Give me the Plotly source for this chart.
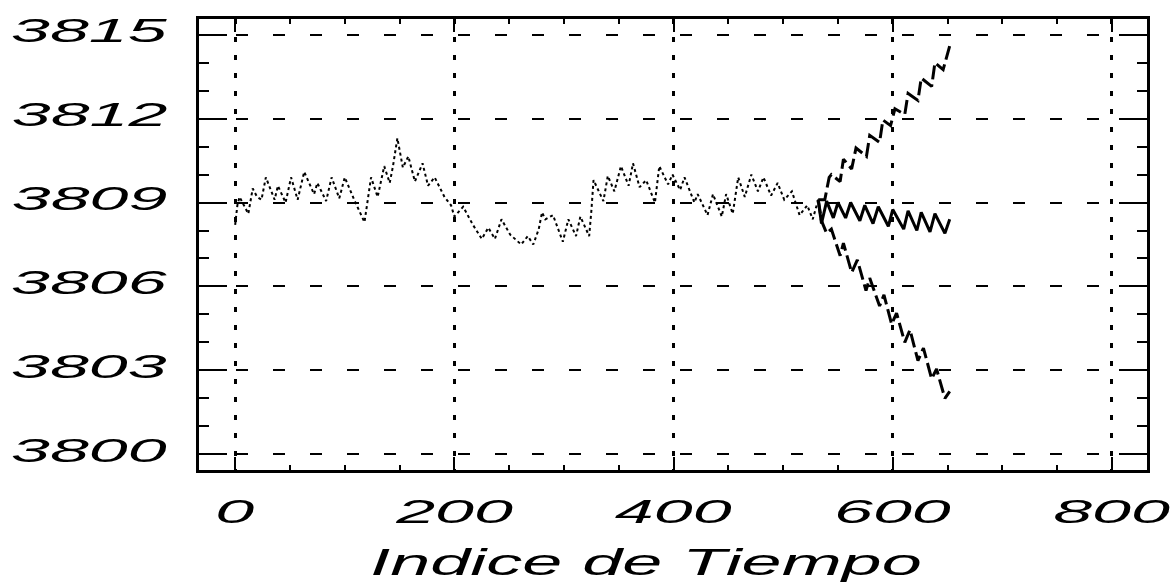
import plotly.graph_objects as go

# Observed series (time index, level)
obs_t = [0, 2, 4, 8, 12, 16, 20, 24, 28, 36, 39, 46, 51, 57, 63, 72, 75, 83, 88, 95,
         100, 109, 118, 124, 130, 136, 141, 144, 148, 153, 158, 164, 171, 176, 182, 191,
         197, 200, 208, 217, 225, 231, 237, 243, 251, 261, 267, 272, 277, 280, 283, 290,
         299, 304, 311, 315, 323, 325, 327, 336, 340, 346, 352, 359, 363, 369, 375, 383,
         387, 395, 399, 406, 410, 419, 422, 431, 436, 444, 448, 454, 459, 465, 471, 477,
         482, 489, 495, 501, 508, 515, 522, 527, 532]
obs_v = [3808.2, 3808.9, 3809.2, 3808.9, 3808.6, 3809.5, 3809.2, 3809.1, 3809.9, 3809.1,
         3809.6, 3809.0, 3809.9, 3809.1, 3810.1, 3809.3, 3809.7, 3809.05, 3809.9, 3809.15,
         3809.9, 3809.06, 3808.3, 3809.9, 3809.2, 3810.3, 3809.7, 3810.3, 3811.3, 3810.25,
         3810.65, 3809.75, 3810.4, 3809.6, 3809.9, 3809.2, 3808.9, 3808.5, 3808.85, 3808.2,
         3807.7, 3808.1, 3807.7, 3808.4, 3807.85, 3807.5, 3807.8, 3807.5, 3808.05, 3808.65,
         3808.4, 3808.55, 3807.6, 3808.4, 3807.8, 3808.5, 3807.8, 3808.7, 3809.8, 3809.05,
         3809.95, 3809.4, 3810.3, 3809.6, 3810.4, 3809.55, 3809.8, 3809.0, 3810.3, 3809.65,
         3810.0, 3809.45, 3809.9, 3809.0, 3809.3, 3808.55, 3809.3, 3808.5, 3809.3, 3808.6,
         3809.9, 3809.2, 3810.0, 3809.4, 3809.9, 3809.25, 3809.7, 3809.1, 3809.4, 3808.55,
         3808.9, 3808.4, 3809.1]

# Point forecast
mid_t = [532, 535, 539.7, 545.8, 550, 557, 561.6, 570, 574.5, 582, 586.8, 596, 600, 610,
         614, 622, 626, 634, 638.5, 647.6, 652]
mid_v = [3809.1, 3808.25, 3809.05, 3808.45, 3809.0, 3808.45, 3809.0, 3808.35, 3808.9,
         3808.25, 3808.85, 3808.15, 3808.75, 3808.05, 3808.7, 3808.0, 3808.65, 3807.95,
         3808.6, 3807.9, 3808.4]

# Upper band
hi_t = [532, 538, 542, 544, 552, 555, 562.5, 566.5, 576, 579, 588, 591, 598, 602, 611,
        614, 623, 626, 635.5, 638.5, 646, 652]
hi_v = [3809.1, 3809.1, 3809.9, 3810.0, 3809.75, 3810.55, 3810.2, 3810.95, 3810.65,
        3811.4, 3811.15, 3811.95, 3811.75, 3812.35, 3812.15, 3812.9, 3812.65, 3813.45,
        3813.15, 3814.0, 3813.75, 3814.6]

# Lower band
lo_t = [532, 535, 539.7, 544, 552, 555, 562.5, 567.7, 575.6, 579, 588, 592, 599, 603.5,
        611, 615.7, 623, 628, 635.5, 640, 647.6, 652]
lo_v = [3809.1, 3808.35, 3807.9, 3808.05, 3807.1, 3807.55, 3806.5, 3806.95, 3805.85,
        3806.3, 3805.3, 3805.7, 3804.65, 3805.05, 3804.0, 3804.45, 3803.35, 3803.8,
        3802.7, 3803.05, 3802.0, 3802.25]

x_ticks = [0, 200, 400, 600, 800]
y_ticks = [3800, 3803, 3806, 3809, 3812, 3815]

label_font = dict(family="Liberation Sans", size=33, color="black", style="italic")

fig = go.Figure()
fig.add_trace(go.Scatter(x=obs_t, y=obs_v, mode="lines",
                         line=dict(color="black", width=2, dash="3px,3px")))
fig.add_trace(go.Scatter(x=hi_t, y=hi_v, mode="lines",
                         line=dict(color="black", width=3, dash="14px,5px")))
fig.add_trace(go.Scatter(x=lo_t, y=lo_v, mode="lines",
                         line=dict(color="black", width=3, dash="14px,5px")))
fig.add_trace(go.Scatter(x=mid_t, y=mid_v, mode="lines",
                         line=dict(color="black", width=3)))

fig.update_layout(
    width=1176, height=582,
    margin=dict(l=199, r=29, t=12, b=112),
    paper_bgcolor="white", plot_bgcolor="white",
    showlegend=False,
    xaxis=dict(
        range=[-33, 832], tickvals=x_ticks, ticktext=[str(v) for v in x_ticks],
        showline=True, linecolor="black", linewidth=3, mirror="allticks",
        ticks="inside", ticklen=13, tickwidth=2, tickcolor="black",
        showgrid=True, gridcolor="black", gridwidth=3, griddash="5px,13px",
        zeroline=False, tickfont=label_font, ticklabelstandoff=10,
        minor=dict(dtick=50, tick0=0, ticks="inside", ticklen=5, tickwidth=2,
                   tickcolor="black", showgrid=False),
    ),
    yaxis=dict(
        range=[3799.44, 3815.56], tickvals=y_ticks, ticktext=[str(v) for v in y_ticks],
        showline=True, linecolor="black", linewidth=3, mirror="allticks",
        ticks="inside", ticklen=28, tickwidth=2, tickcolor="black",
        showgrid=True, gridcolor="black", gridwidth=2, griddash="12px,25px",
        zeroline=False, tickfont=label_font, ticklabelstandoff=22, ticklabelshift=-4,
        minor=dict(dtick=1, tick0=3800, ticks="inside", ticklen=10, tickwidth=2,
                   tickcolor="black", showgrid=False),
    ),
    annotations=[dict(
        text="Indice de Tiempo", xref="paper", yref="paper", x=0.4715, y=-0.204,
        xanchor="center", yanchor="middle", showarrow=False,
        font=dict(family="Liberation Sans", size=36, color="black", style="italic"),
    )],
)

# Wide, stretched lettering for the axis labels and title
widen_js = """
var gd = document.getElementById('{plot_id}');
function widen() {
  gd.querySelectorAll('g.xtick > text, g.ytick > text, text.annotation-text').forEach(function (t) {
    if (t.getAttribute('data-wide')) return;
    var b = t.getBBox();
    var a = t.getAttribute('text-anchor') || 'start';
    var ax = a === 'end' ? b.x + b.width : (a === 'middle' ? b.x + b.width / 2 : b.x);
    var s = t.classList.contains('annotation-text') ? 2.0 : 2.12;
    var tr = t.getAttribute('transform') || '';
    t.setAttribute('transform', tr + ' translate(' + ax + ',0) scale(' + s + ',1) translate(' + (-ax) + ',0)');
    t.setAttribute('data-wide', '1');
  });
}
widen();
gd.on('plotly_afterplot', widen);
"""

fig.write_html("out.html", post_script=widen_js)
